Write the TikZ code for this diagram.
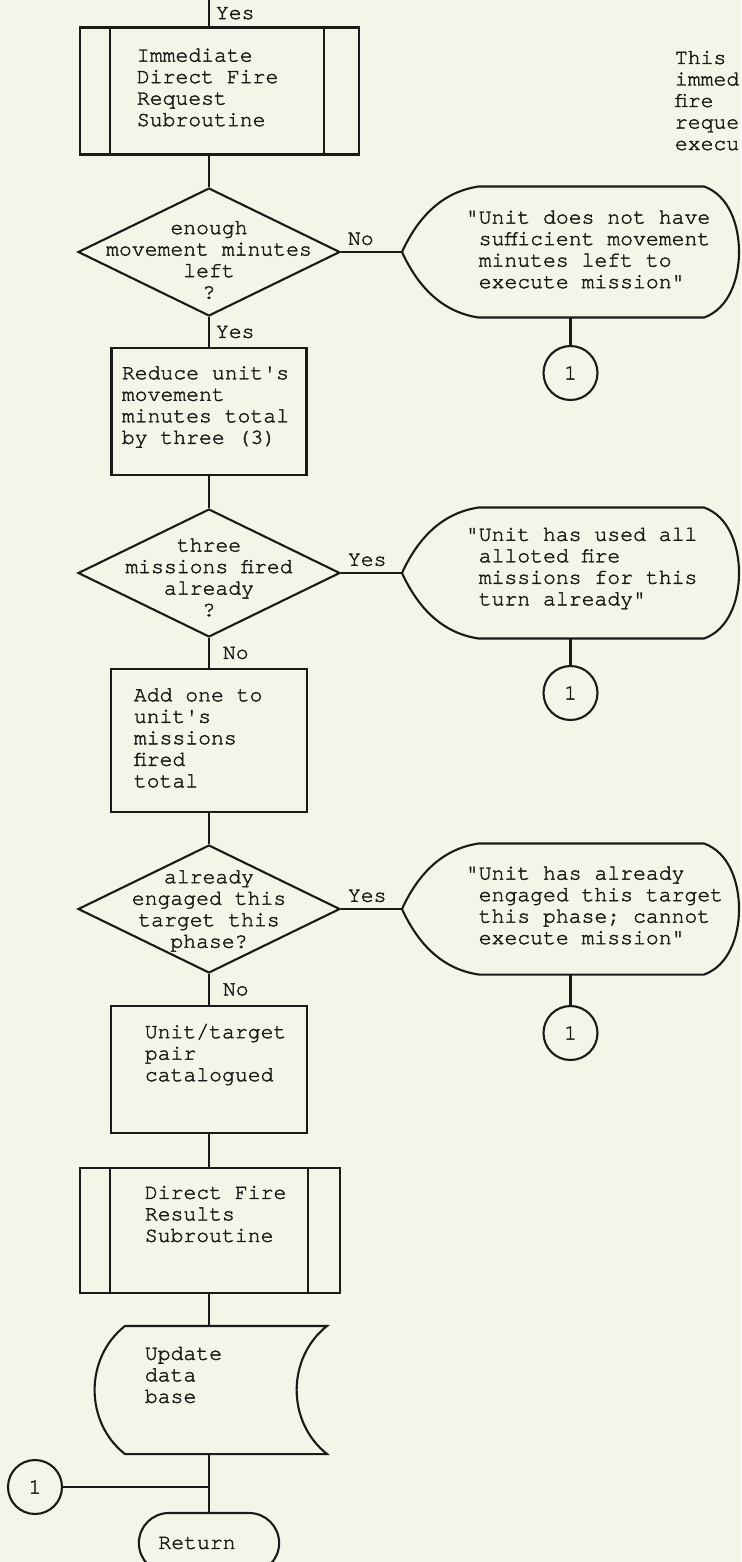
\documentclass[tikz,border=0pt]{standalone}
\usepackage{fontspec}
\setmonofont{TeX Gyre Cursor}[FakeBold=1.8]
\usepackage{tikz}
\usetikzlibrary{shapes, calc}
\definecolor{paper}{RGB}{245,244,232}
\definecolor{ink}{RGB}{28,26,24}

\begin{document}
\begin{tikzpicture}[x=0.02cm, y=-0.02cm, line width=1.2pt, draw=ink, text=ink,
                font=\ttfamily\fontsize{12.2}{12.24}\selectfont,
                every label/.style = {align=left},
                proc/.style = {draw, rectangle, minimum width=3.92cm, minimum height=2.54cm},
                subr/.style = {draw, rectangle, minimum height=2.54cm},
                dec/.style = {draw, diamond, inner sep=0pt, minimum width=5.24cm, minimum height=2.56cm},
                disp/.style = {rectangle, minimum width=6.7cm, minimum height=2.58cm},
                conn/.style = {draw, circle, inner sep=0pt, minimum size=1.08cm},
                term/.style = {draw, rounded rectangle, minimum width=3.04cm, minimum height=1.2cm},
                store/.style = {rectangle, minimum width=4cm, minimum height=2.52cm}]
                \useasboundingbox[fill=paper] (0,0) rectangle (741,1562);

                % main column
                \coordinate (start) at (209, 0);
                \node[subr, minimum width=5.58cm, label={[anchor=west, xshift=1.02cm, yshift=0.07cm]west:{Immediate\\Direct Fire\\Request\\Subroutine}}] at (219.5, 91) (subA) {};
                \node[dec, label={[align=center, yshift=-0.16cm]center:{enough\\movement minutes\\left\\?}}] at (209, 252) (decA) {};
                \node[proc, minimum width=3.9cm, label={[anchor=west, xshift=0.09cm, yshift=0.09cm]west:{Reduce unit's\\movement\\minutes total\\by three (3)}}] at (209, 411.5) (redBox) {};
                \node[dec, label={[align=center, yshift=-0.09cm]center:{three\\missions fired\\already\\?}}] at (209, 573) (decB) {};
                \node[proc, minimum height=2.86cm, label={[anchor=west, xshift=0.34cm, yshift=0.05cm]west:{Add one to\\unit's\\missions\\fired\\total}}] at (209, 740.5) (addBox) {};
                \node[dec, label={[align=center, yshift=-0.04cm]center:{already\\engaged this\\target this\\phase?}}] at (209, 909) (decC) {};
                \node[proc, label={[anchor=west, xshift=0.56cm, yshift=0.3cm]west:{Unit/target\\pair\\catalogued}}] at (209, 1069.5) (catBox) {};
                \node[subr, minimum width=5.2cm, minimum height=2.5cm, label={[anchor=west, xshift=1.18cm, yshift=0.33cm]west:{Direct Fire\\Results\\Subroutine}}] at (210, 1230.5) (subB) {};
                \node[store, label={[anchor=west, xshift=0.26cm, yshift=0.3cm]west:{Update\\data\\base}}] at (226, 1390) (dbase) {};
                \node[term, label={[xshift=-0.24cm]center:Return}] at (209, 1543) (ret) {};
                \node[conn] at (35, 1487) (conD) {1};

                % messages on the right
                \node[disp, label={[anchor=west, xshift=1.14cm, yshift=0.05cm]west:{"Unit does not have\\\hphantom{"}sufficient movement\\\hphantom{"}minutes left to\\\hphantom{"}execute mission"}}] at (570.5, 252) (msgA) {};
                \node[disp, label={[anchor=west, xshift=1.14cm, yshift=0.09cm]west:{"Unit has used all\\\hphantom{"}alloted fire\\\hphantom{"}missions for this\\\hphantom{"}turn already"}}] at (570.5, 573) (msgB) {};
                \node[disp, label={[anchor=west, xshift=1.14cm, yshift=0.07cm]west:{"Unit has already\\\hphantom{"}engaged this target\\\hphantom{"}this phase; cannot\\\hphantom{"}execute mission"}}] at (570.5, 909) (msgC) {};
                \node[conn] at (570.5, 373) (conA) {1};
                \node[conn] at (570.5, 693) (conB) {1};
                \node[conn] at (570.5, 1033) (conC) {1};

                \node[anchor=north west, align=left] at (668, 44) (note) {This\\immed\\fire\\reque\\execu};

                % outlines
                \draw ([xshift=0.62cm]subA.north west) -- ([xshift=0.62cm]subA.south west);
                \draw ([xshift=-0.72cm]subA.north east) -- ([xshift=-0.72cm]subA.south east);
                \draw ([xshift=0.62cm]subB.north west) -- ([xshift=0.62cm]subB.south west);
                \draw ([xshift=-0.66cm]subB.north east) -- ([xshift=-0.66cm]subB.south east);
                \foreach \m in {msgA, msgB, msgC}
                    \draw (\m.west) .. controls ([xshift=0.34cm, yshift=0.74cm]\m.west) and ([xshift=0.84cm, yshift=-0.1cm]\m.north west) .. ([xshift=1.54cm]\m.north west)
                        -- ([xshift=-0.7cm]\m.north east) .. controls ([xshift=-0.2cm, yshift=-0.18cm]\m.north east) and ([yshift=0.54cm]\m.east) .. (\m.east)
                        .. controls ([yshift=-0.54cm]\m.east) and ([xshift=-0.2cm, yshift=0.18cm]\m.south east) .. ([xshift=-0.7cm]\m.south east)
                        -- ([xshift=1.54cm]\m.south west) .. controls ([xshift=0.84cm, yshift=0.1cm]\m.south west) and ([xshift=0.34cm, yshift=-0.74cm]\m.west) .. (\m.west);
                \draw (dbase.north west) -- (dbase.north east)
                    .. controls ([xshift=-0.81cm, yshift=-0.64cm]dbase.north east) and ([xshift=-0.81cm, yshift=0.64cm]dbase.south east) .. (dbase.south east)
                    -- (dbase.south west)
                    .. controls ([xshift=-0.81cm, yshift=0.64cm]dbase.south west) and ([xshift=-0.81cm, yshift=-0.64cm]dbase.north west) .. (dbase.north west);

                % connectors
                \draw (start) -- (start |- subA.north) node[midway, right] {Yes};
                \draw (decA.north |- subA.south) -- (decA.north);
                \draw (decA.south) -- (redBox.north) node[midway, right] {Yes};
                \draw (decA.east) -- (msgA.west) node[pos=0, above right] {No};
                \draw (msgA.south) -- (conA.north);
                \draw (redBox.south) -- (decB.north);
                \draw (decB.east) -- (msgB.west) node[pos=0, above right] {Yes};
                \draw (msgB.south) -- (conB.north);
                \draw (decB.south) -- (addBox.north) node[midway, right, xshift=4pt] {No};
                \draw (addBox.south) -- (decC.north);
                \draw (decC.east) -- (msgC.west) node[pos=0, above right] {Yes};
                \draw (msgC.south) -- (conC.north);
                \draw (decC.south) -- (catBox.north) node[midway, right, xshift=4pt] {No};
                \draw (catBox.south) -- (catBox.south |- subB.north);
                \draw (catBox.south |- subB.south) -- (catBox.south |- dbase.north);
                \draw (ret.north |- dbase.south) -- (ret.north);
                \draw (conD.east) -- (conD.east -| ret.north);
            \end{tikzpicture}
\end{document}
